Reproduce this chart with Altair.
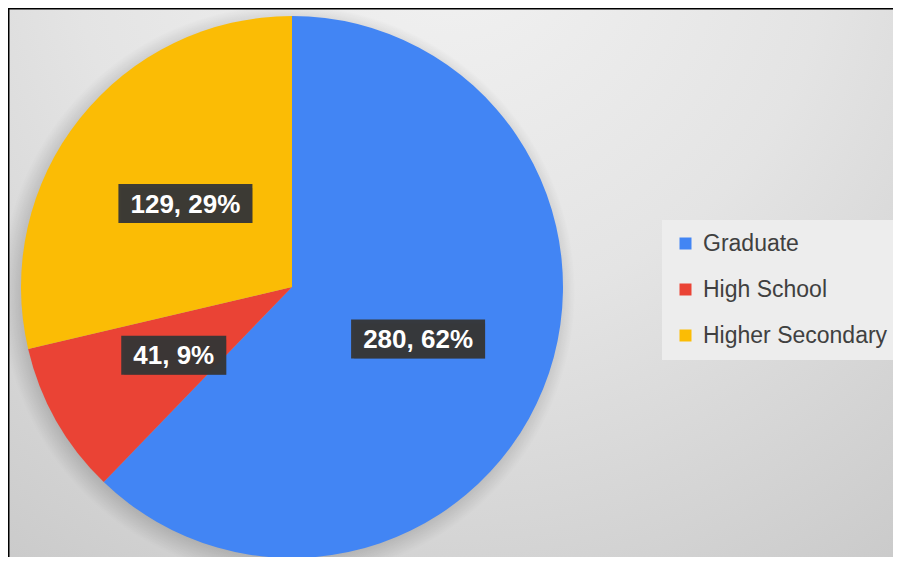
import altair as alt
import pandas as pd

# ---- data ----
categories = ["Graduate", "High School", "Higher Secondary"]
values = [280, 41, 129]
colors = ["#4285F4", "#EA4335", "#FBBC05"]

# ---- layout constants ----
W, H = 885, 549
CX, CY, R = 284, 279, 271
LR = 136  # label radius

df = pd.DataFrame({"category": categories, "value": values, "idx": list(range(len(categories)))})
one = pd.DataFrame({"a": [0]})

bg = alt.Chart(one).mark_rect(
    fill=alt.RadialGradient(
        gradient="radial", x1=0.5, y1=0.1, r1=0, x2=0.5, y2=0.1, r2=0.95,
        stops=[
            alt.GradientStop(offset=0, color="#f2f2f2"),
            alt.GradientStop(offset=0.45, color="#e4e4e4"),
            alt.GradientStop(offset=1, color="#c6c6c6"),
        ],
    )
).encode(x=alt.value(0), x2=alt.value(W), y=alt.value(0), y2=alt.value(H))

shadow = alt.Chart(one).mark_point(
    shape="circle", filled=True, opacity=1, size=(2 * (R + 16)) ** 2,
    fill=alt.RadialGradient(
        gradient="radial", x1=0.5, y1=0.5, r1=0, x2=0.5, y2=0.5, r2=0.5,
        stops=[
            alt.GradientStop(offset=0.88, color="rgba(0,0,0,0.25)"),
            alt.GradientStop(offset=1, color="rgba(0,0,0,0)"),
        ],
    ),
).encode(x=alt.value(CX - 4), y=alt.value(CY + 5))

pie = alt.Chart(df).mark_arc(outerRadius=R).encode(
    theta=alt.Theta("value:Q", stack=True),
    color=alt.Color(
        "category:N",
        scale=alt.Scale(domain=categories, range=colors),
        legend=alt.Legend(
            title=None,
            orient="none",
            legendX=654,
            legendY=212,
            symbolType="square",
            symbolSize=144,
            symbolStrokeWidth=0,
            labelFont="Liberation Sans",
            labelFontSize=23,
            labelColor="#404040",
            labelLimit=400,
            labelOffset=6,
            rowPadding=22,
            padding=12,
            fillColor="#ededed",
        ),
    ),
    order=alt.Order("idx:Q"),
    x=alt.value(CX),
    y=alt.value(CY),
)

lab = alt.Chart(df).transform_joinaggregate(
    total="sum(value)"
).transform_window(
    cum="sum(value)", sort=[alt.SortField("idx")], frame=[None, 0]
).transform_calculate(
    mid="(datum.cum - datum.value/2) / datum.total * 2 * PI",
).transform_calculate(
    px=f"{CX} + {LR} * sin(datum.mid)",
    py=f"{CY + 1} - {LR} * cos(datum.mid)",
    label="datum.value + ', ' + format(datum.value / datum.total * 100, '.0f') + '%'",
).transform_calculate(
    bw="18 + 14.5 * length(datum.label)",
).transform_calculate(
    bx1="datum.px - datum.bw / 2",
    bx2="datum.px + datum.bw / 2",
    by1="datum.py - 19.5",
    by2="datum.py + 19.5",
)

box_enc = dict(
    x=alt.X("bx1:Q", scale=None, axis=None),
    x2="bx2:Q",
    y=alt.Y("by1:Q", scale=None, axis=None),
    y2="by2:Q",
)
box_shadow = lab.mark_rect(color="black", opacity=0.25, xOffset=3, yOffset=4).encode(**box_enc)
box = lab.mark_rect(color="#363636", opacity=0.96).encode(**box_enc)
txt = lab.mark_text(
    font="Liberation Sans", fontWeight="bold", fontSize=26, color="white",
    align="center", baseline="middle", dy=1,
).encode(
    x=alt.X("px:Q", scale=None, axis=None),
    y=alt.Y("py:Q", scale=None, axis=None),
    text="label:N",
)

top_border = alt.Chart(one).mark_rule(color="black", strokeWidth=2).encode(
    x=alt.value(0), x2=alt.value(W), y=alt.value(0.5)
)
left_border = alt.Chart(one).mark_rule(color="black", strokeWidth=2).encode(
    x=alt.value(0.5), y=alt.value(0), y2=alt.value(H)
)

chart = alt.layer(bg, shadow, pie, box_shadow, box, txt, top_border, left_border).properties(
    width=W, height=H, autosize=alt.AutoSizeParams(type="none"), padding=0
).configure_view(strokeWidth=0)

chart.save("out.html", embed_options={"renderer": "svg", "actions": False})
